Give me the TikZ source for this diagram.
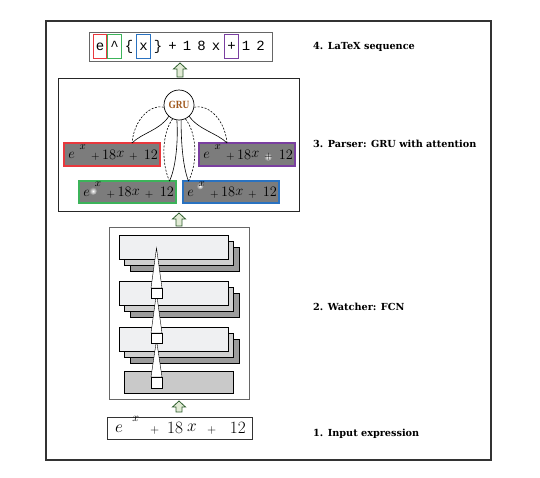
\documentclass[tikz,border=0pt]{standalone}
\usepackage{fontspec}
\setmainfont{DejaVu Serif}
\newfontfamily\monof{Liberation Mono}
\newfontfamily\grufont{Liberation Serif}
\usetikzlibrary{calc}
\definecolor{tokred}{HTML}{E8383D}
\definecolor{tokgreen}{HTML}{3CB35A}
\definecolor{tokblue}{HTML}{2A72C0}
\definecolor{tokpurple}{HTML}{7A3FA0}
\definecolor{imgfill}{HTML}{7C7C7C}
\definecolor{arrfill}{HTML}{E2EBD6}
\definecolor{arrline}{HTML}{2E5E2E}
\definecolor{grutext}{HTML}{A0581C}
\definecolor{layfront}{HTML}{EFF0F2}
\definecolor{laymid}{HTML}{CFCFCF}
\definecolor{layback}{HTML}{9C9C9C}
\definecolor{laybottom}{HTML}{C9C9C9}
\newcommand\blockup[3]{%
  \draw[blockarrow] (#1-3,#3) -- (#1-3,#2+6) -- (#1-6.5,#2+6) -- (#1,#2) -- (#1+6.5,#2+6) -- (#1+3,#2+6) -- (#1+3,#3) -- cycle;}
\newcommand\hexpr[3]{% node name, font size, prefix
  \path (#1.west) -- (#1.east)
    node[hw, pos=.085, yshift=-1pt] (#3e) {\fontsize{#2}{#2}\selectfont$e$}
    node[hw, pos=.20, yshift=.5*#2pt] (#3s) {\fontsize{#2}{#2}\selectfont$\scriptstyle x$}
    node[hw, pos=.33, yshift=-2.5pt] (#3p) {\fontsize{#2}{#2}\selectfont$\scriptstyle +$}
    node[hw, pos=.47] (#3a) {\fontsize{#2}{#2}\selectfont$18$}
    node[hw, pos=.585] (#3x) {\fontsize{#2}{#2}\selectfont$x$}
    node[hw, pos=.72, yshift=-2.5pt] (#3q) {\fontsize{#2}{#2}\selectfont$\scriptstyle +$}
    node[hw, pos=.90] (#3b) {\fontsize{#2}{#2}\selectfont$12$};}
\newcommand\layergroup[2]{% left x, top y
  \draw[thin, fill=layback] (#1+11,#2+12) rectangle (#1+120,#2+36);
  \draw[thin, fill=laymid] (#1+5.5,#2+6) rectangle (#1+114.5,#2+30);
  \draw[thin, fill=layfront] (#1,#2) rectangle (#1+109,#2+24);}
\begin{document}
\begin{tikzpicture}[x=1pt,y=-1pt,
  frame/.style={draw=black!80, line width=1.8pt},
  seqbox/.style={draw=black!60, line width=0.8pt, fill=white, inner sep=0pt},
  tok/.style={font=\monof\fontsize{14}{14}\selectfont, text height=9.5pt, text depth=2.5pt, inner xsep=0pt, inner ysep=6.3pt, minimum width=13.5pt, line width=1.1pt},
  blockarrow/.style={draw=arrline, fill=arrfill, line width=0.8pt, line join=miter},
  imgbox/.style={fill=imgfill, line width=1.3pt, inner sep=0pt},
  hw/.style={inner sep=0pt, text=black},
  lbl/.style={anchor=west, inner sep=0pt, font=\bfseries\fontsize{9.7}{11}\selectfont},
  att/.style={line width=0.6pt},
  attd/.style={line width=0.6pt, dashed, dash pattern=on 2pt off 1.5pt}]
\useasboundingbox (0,0) rectangle (540,477);
\node[frame, minimum width=445, minimum height=439, inner sep=0pt] (outer) at (268.5,240.5) {};

% ---- 4. LaTeX sequence
\node[seqbox, minimum width=183, minimum height=29] (seq) at (180.5,46.5) {};
\node[tok, draw=tokred] (t1) at (100,46.5) {e};
\node[tok, draw=tokgreen] (t2) at (114.5,46.5) {\^{}};
\node[tok] (t3) at (129,46.5) {\{};
\node[tok, draw=tokblue] (t4) at (143.5,46.5) {x};
\node[tok] (t5) at (158,46.5) {\}};
\node[tok] (t6) at (172.5,46.5) {+};
\node[tok] (t7) at (187,46.5) {1};
\node[tok] (t8) at (201.5,46.5) {8};
\node[tok] (t9) at (216,46.5) {x};
\node[tok, draw=tokpurple] (t10) at (231.5,46.5) {+};
\node[tok] (t11) at (246,46.5) {1};
\node[tok] (t12) at (260.5,46.5) {2};
\blockup{180}{63}{77}

% ---- 3. Parser
\node[draw=black!85, line width=1pt, minimum width=241, minimum height=133, inner sep=0pt] (parser) at (178.5,144.5) {};
\node[imgbox, draw=tokred, minimum width=96, minimum height=23] (imR) at (112,154.5) {};
\node[imgbox, draw=tokpurple, minimum width=96, minimum height=23] (imP) at (247,154.5) {};
\node[imgbox, draw=tokgreen, minimum width=97, minimum height=22] (imG) at (127.5,192) {};
\node[imgbox, draw=tokblue, minimum width=96, minimum height=22] (imB) at (231,192) {};
\shade[inner color=white, outer color=imgfill] (93,191) circle (4);
\shade[inner color=white, outer color=imgfill] (200,186) circle (3.5);
\shade[inner color=white, outer color=imgfill] (268,157) circle (4);
\hexpr{imR}{15}{r}
\hexpr{imP}{15}{p}
\hexpr{imG}{15}{g}
\hexpr{imB}{15}{b}
\node[circle, draw, line width=0.7pt, fill=white, minimum size=30, inner sep=0pt, text=grutext, font=\grufont\bfseries\fontsize{11}{11}\selectfont] (gru) at (179,105) {\scalebox{0.85}[1]{GRU}};
\coordinate (pR) at (132,143);
\coordinate (pP) at (227,143);
\coordinate (pG) at (169.5,181);
\coordinate (pB) at (188.5,181);
\draw[attd] (gru.188) .. controls (150,104) and (134,120) .. (pR);
\draw[att] (gru.228) .. controls (160,130) and (142,133) .. (pR);
\draw[attd] (gru.352) .. controls (209,104) and (225,120) .. (pP);
\draw[att] (gru.312) .. controls (199,130) and (217,133) .. (pP);
\draw[attd] (gru.245) .. controls (161,135) and (162,165) .. (pG);
\draw[att] (gru.262) .. controls (178,135) and (177,165) .. (pG);
\draw[attd] (gru.295) .. controls (198,135) and (197,165) .. (pB);
\draw[att] (gru.278) .. controls (181,135) and (182,165) .. (pB);
\blockup{179}{213}{226}

% ---- 2. Watcher
\node[draw=black!60, line width=0.8pt, minimum width=140, minimum height=172, inner sep=0pt] (watch) at (179,313) {};
\layergroup{119}{235}
\layergroup{119}{281}
\layergroup{119}{327}
\draw[thin, fill=laybottom] (124,371) rectangle (233,393);
\draw[thin, fill=white] (151,377) -- (156.5,340) -- (162,377) -- cycle;
\draw[thin, fill=white] (151,333) -- (156.5,293) -- (162,333) -- cycle;
\draw[thin, fill=white] (151,288) -- (156.5,248) -- (162,288) -- cycle;
\draw[thin, fill=white] (151,377) rectangle (162,388);
\draw[thin, fill=white] (151,333) rectangle (162,343);
\draw[thin, fill=white] (151,288) rectangle (162,298);
\blockup{179}{401}{412}

% ---- 1. Input
\node[draw=black!80, line width=0.8pt, minimum width=145, minimum height=22, inner sep=0pt] (inp) at (179.5,428) {};
\hexpr{inp}{18}{i}

% ---- labels
\node[lbl] (l4) at (313,47) {4. LaTeX sequence};
\node[lbl] (l3) at (313,144) {3. Parser: GRU with attention};
\node[lbl] (l2) at (313,307) {2. Watcher: FCN};
\node[lbl] (l1) at (313,434) {1. Input expression};
\end{tikzpicture}
\end{document}
